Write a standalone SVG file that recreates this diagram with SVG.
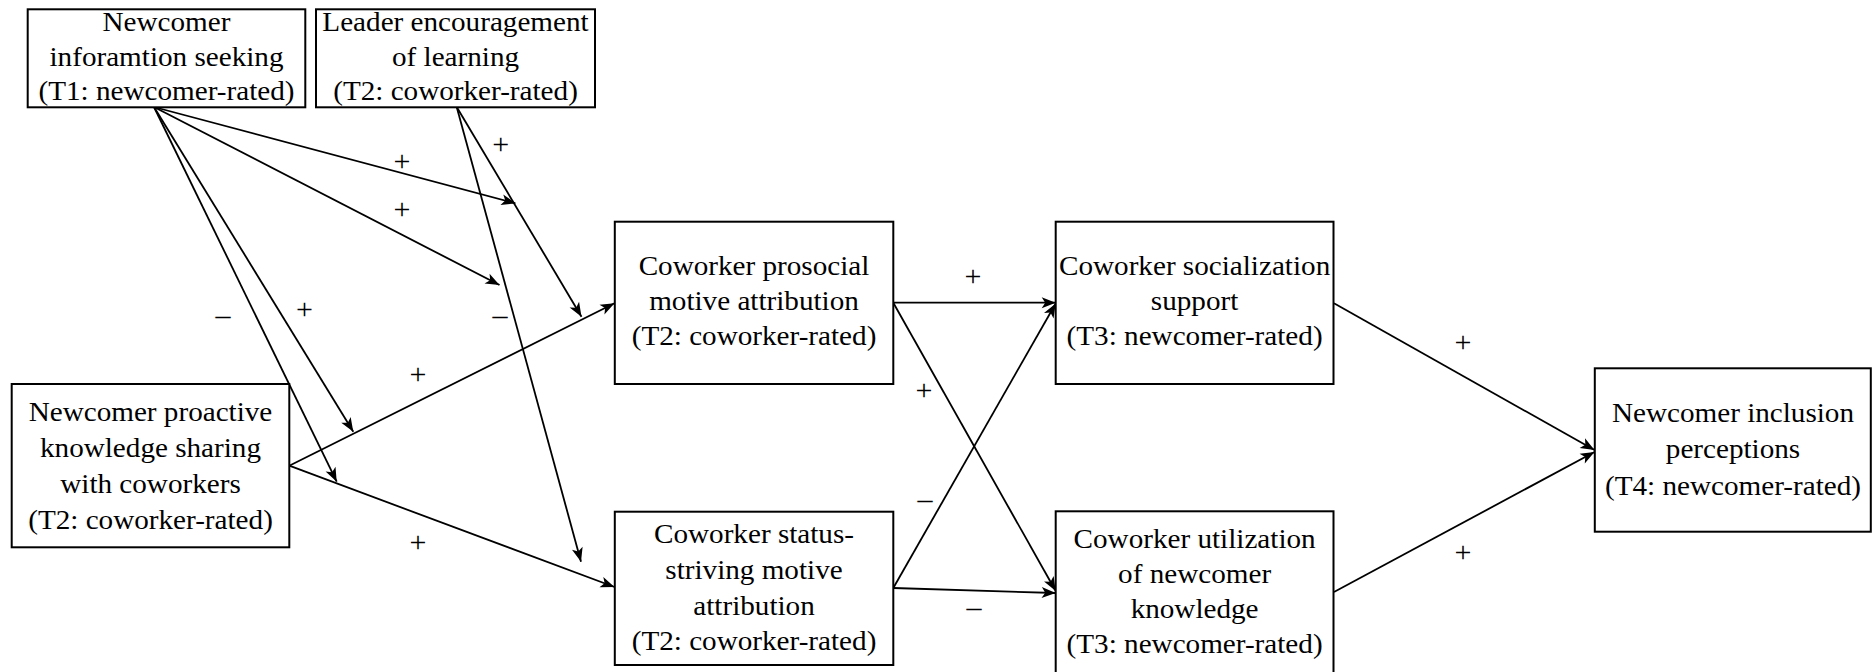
<svg xmlns="http://www.w3.org/2000/svg" width="1872" height="672" viewBox="0 0 1872 672">
<style>
.box{fill:#fff;stroke:#000;stroke-width:2}
.t{font-family:'Liberation Serif','Times New Roman',serif;font-size:27px;fill:#000;text-anchor:middle}
.s{font-family:'Liberation Serif','Times New Roman',serif;font-size:30px;fill:#000;text-anchor:middle}
.c{fill:none;stroke:#000;stroke-width:1.8;marker-end:url(#ah)}
</style>
<defs>
<marker id="ah" markerUnits="userSpaceOnUse" markerWidth="16" markerHeight="14" refX="14" refY="6" orient="auto" overflow="visible">
<path d="M0,0.5 L14,6 L0,11.5 L3.5,6 Z" fill="#000"/>
</marker>
</defs>
<rect width="1872" height="672" fill="#fff"/>

<g id="connectors">
<path class="c" d="M154,107 L515.4,203.3"/>
<path class="c" d="M154,107 L499.5,285"/>
<path class="c" d="M154,107 L353.3,431.7"/>
<path class="c" d="M154,107 L336.7,481.7"/>
<path class="c" d="M456.7,107 L581.5,316.7"/>
<path class="c" d="M456.7,107 L581,561.7"/>
<path class="c" d="M289.3,465.7 L614.5,303.3"/>
<path class="c" d="M289.3,465.7 L614.5,587"/>
<path class="c" d="M893.3,302.7 L1055.7,302.7"/>
<path class="c" d="M893.3,302.7 L1055.7,591"/>
<path class="c" d="M893.3,588 L1055.7,303.5"/>
<path class="c" d="M893.3,588 L1055.7,593"/>
<path class="c" d="M1334,303.3 L1594.5,450"/>
<path class="c" d="M1334,592 L1594.5,452"/>
</g>

<g id="labels">
<text class="s" x="500.7" y="154">+</text>
<text class="s" x="402" y="171">+</text>
<text class="s" x="402" y="219">+</text>
<text class="s" x="223" y="325">–</text>
<text class="s" x="304.5" y="319">+</text>
<text class="s" x="500" y="325">–</text>
<text class="s" x="418" y="384">+</text>
<text class="s" x="418" y="552">+</text>
<text class="s" x="973" y="285.5">+</text>
<text class="s" x="924" y="400">+</text>
<text class="s" x="925" y="509">–</text>
<text class="s" x="974" y="617">–</text>
<text class="s" x="1463" y="351.5">+</text>
<text class="s" x="1463" y="562">+</text>
</g>

<g id="n_info">
<rect class="box" x="27.7" y="9.3" width="277.6" height="98"/>
<text class="t" transform="translate(166.5,0) scale(1.08,1)"><tspan x="0" y="31">Newcomer</tspan><tspan x="0" y="66">inforamtion seeking</tspan><tspan x="0" y="100">(T1: newcomer-rated)</tspan></text>
</g>

<g id="n_leader">
<rect class="box" x="316" y="9.3" width="279" height="98"/>
<text class="t" transform="translate(455.5,0) scale(1.08,1)"><tspan x="0" y="31">Leader encouragement</tspan><tspan x="0" y="66">of learning</tspan><tspan x="0" y="100">(T2: coworker-rated)</tspan></text>
</g>

<g id="n_proactive">
<rect class="box" x="11.7" y="384" width="277.6" height="163.3"/>
<text class="t" transform="translate(150.5,0) scale(1.08,1)"><tspan x="0" y="421">Newcomer proactive</tspan><tspan x="0" y="457">knowledge sharing</tspan><tspan x="0" y="493">with coworkers</tspan><tspan x="0" y="529">(T2: coworker-rated)</tspan></text>
</g>

<g id="n_prosocial">
<rect class="box" x="614.8" y="221.7" width="278.5" height="162.3"/>
<text class="t" transform="translate(754,0) scale(1.08,1)"><tspan x="0" y="275">Coworker prosocial</tspan><tspan x="0" y="310">motive attribution</tspan><tspan x="0" y="345.5">(T2: coworker-rated)</tspan></text>
</g>

<g id="n_status">
<rect class="box" x="614.8" y="511.7" width="278.5" height="153.3"/>
<text class="t" transform="translate(754,0) scale(1.08,1)"><tspan x="0" y="543.3">Coworker status-</tspan><tspan x="0" y="579.3">striving motive</tspan><tspan x="0" y="615">attribution</tspan><tspan x="0" y="650">(T2: coworker-rated)</tspan></text>
</g>

<g id="n_socialization">
<rect class="box" x="1055.7" y="221.7" width="277.8" height="162.3"/>
<text class="t" transform="translate(1194.6,0) scale(1.08,1)"><tspan x="0" y="275">Coworker socialization</tspan><tspan x="0" y="310">support</tspan><tspan x="0" y="345.5">(T3: newcomer-rated)</tspan></text>
</g>

<g id="n_utilization">
<rect class="box" x="1055.7" y="511.3" width="277.8" height="170"/>
<text class="t" transform="translate(1194.6,0) scale(1.08,1)"><tspan x="0" y="548.3">Coworker utilization</tspan><tspan x="0" y="583">of newcomer</tspan><tspan x="0" y="618.3">knowledge</tspan><tspan x="0" y="653.5">(T3: newcomer-rated)</tspan></text>
</g>

<g id="n_inclusion">
<rect class="box" x="1594.8" y="368.3" width="276" height="163.4"/>
<text class="t" transform="translate(1733,0) scale(1.08,1)"><tspan x="0" y="421.7">Newcomer inclusion</tspan><tspan x="0" y="458.3">perceptions</tspan><tspan x="0" y="495">(T4: newcomer-rated)</tspan></text>
</g>
</svg>
